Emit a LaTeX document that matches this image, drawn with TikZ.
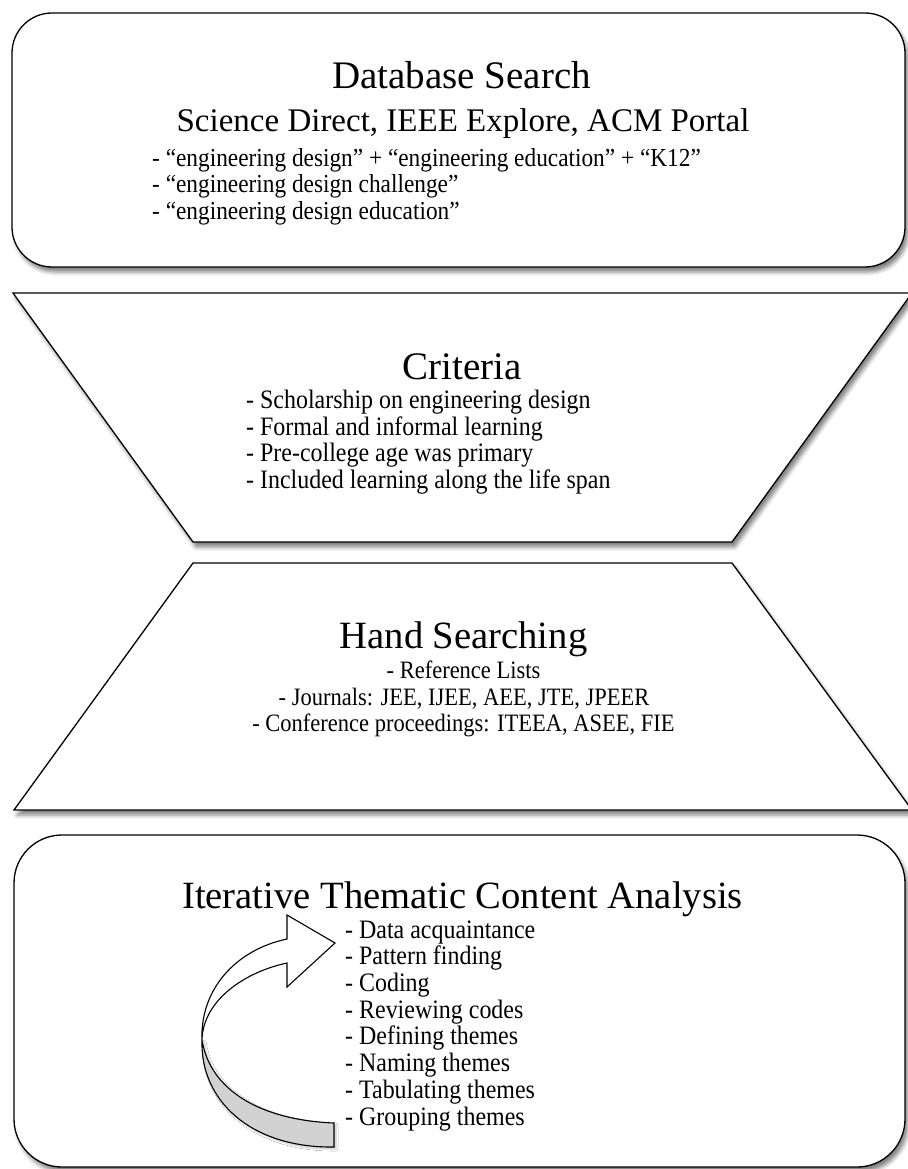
\documentclass[tikz,border=0pt]{standalone}
\usepackage{fontspec}
\setmainfont{Liberation Serif}
\newfontfamily\itemfont{Liberation Serif}[FakeStretch=0.9]
\usetikzlibrary{shadows.blur}
\begin{document}
\begin{tikzpicture}[x=1pt,y=-1pt,
  panel/.style={draw=black, line width=1.3pt, fill=white,
    blur shadow={shadow xshift=3pt, shadow yshift=-5pt, shadow blur radius=4pt, shadow opacity=50}},
  arrowline/.style={draw=black, line width=1.1pt, line join=miter},
  ttl/.style={inner sep=0pt, anchor=base},
  itemL/.style={inner sep=0pt, anchor=base west},
  itemC/.style={inner sep=0pt, anchor=base},
]
\useasboundingbox (0,0) rectangle (907,1169);

% panels
\draw[panel, rounded corners=40pt] (12,13) rectangle (905,267);
\draw[panel] (13,293) -- (912,293) -- (732,542) -- (193,542) -- cycle;
\draw[panel] (193,563) -- (732,563) -- (912,810) -- (14,810) -- cycle;
\draw[panel, rounded corners=48pt] (14,835) rectangle (905,1167);

% Database search
\node[ttl, font=\fontsize{39}{40}\selectfont] (dbt) at (461.5,89) {Database Search};
\node[ttl, font=\fontsize{33}{36}\selectfont] (dbs) at (463,132) {Science Direct, IEEE Explore, ACM Portal};
\begin{scope}[every node/.style={itemL, font=\itemfont\fontsize{25.9}{28}\selectfont}]
\node (db1) at (152,166.5) {- “engineering design” + “engineering education” + “K12”};
\node (db2) at (152,193) {- “engineering design challenge”};
\node (db3) at (152,219.5) {- “engineering design education”};
\end{scope}

% Criteria
\node[ttl, font=\fontsize{39}{40}\selectfont] (crt) at (462.5,379) {Criteria};
\begin{scope}[every node/.style={itemL, font=\itemfont\fontsize{26.6}{28}\selectfont}]
\node (cr1) at (246,408) {- Scholarship on engineering design};
\node (cr2) at (246,435) {- Formal and informal learning};
\node (cr3) at (246,461) {- Pre-college age was primary};
\node (cr4) at (246,488) {- Included learning along the life span};
\end{scope}

% Hand searching
\node[ttl, font=\fontsize{38.6}{40}\selectfont] (hst) at (463.5,648) {Hand Searching};
\begin{scope}[every node/.style={itemC, font=\itemfont\fontsize{25}{28}\selectfont}]
\node (hs1) at (463.5,678) {- Reference Lists};
\node (hs2) at (464,705) {- Journals: JEE, IJEE, AEE, JTE, JPEER};
\node (hs3) at (463.5,731) {- Conference proceedings: ITEEA, ASEE, FIE};
\end{scope}

% Iterative thematic content analysis
\node[ttl, font=\fontsize{38.6}{40}\selectfont] (itt) at (462.5,908) {Iterative Thematic Content Analysis};
\begin{scope}[every node/.style={itemL, font=\itemfont\fontsize{26.6}{28}\selectfont}]
\node (it1) at (345,938) {- Data acquaintance};
\node (it2) at (345,964.7) {- Pattern finding};
\node (it3) at (345,991.4) {- Coding};
\node (it4) at (345,1018.1) {- Reviewing codes};
\node (it5) at (345,1044.8) {- Defining themes};
\node (it6) at (345,1071.5) {- Naming themes};
\node (it7) at (345,1098.2) {- Tabulating themes};
\node (it8) at (345,1125) {- Grouping themes};
\end{scope}

% curved ribbon arrow
\draw[arrowline, fill=gray!35,
  blur shadow={shadow xshift=2pt, shadow yshift=-2pt, shadow blur radius=2pt, shadow opacity=25}]
  (202,1040) .. controls (210,1090) and (260,1120) .. (334,1123)
  -- (334,1147) .. controls (250,1148) and (200,1100) .. (202,1040) -- cycle;
\draw[arrowline, fill=white]
  (287,939) -- (287,915) -- (335,943) -- (287,987) -- (287,963)
  .. controls (245,972) and (203,1000) .. (202,1040)
  .. controls (200,990) and (235,950) .. (287,939) -- cycle;
\end{tikzpicture}
\end{document}
